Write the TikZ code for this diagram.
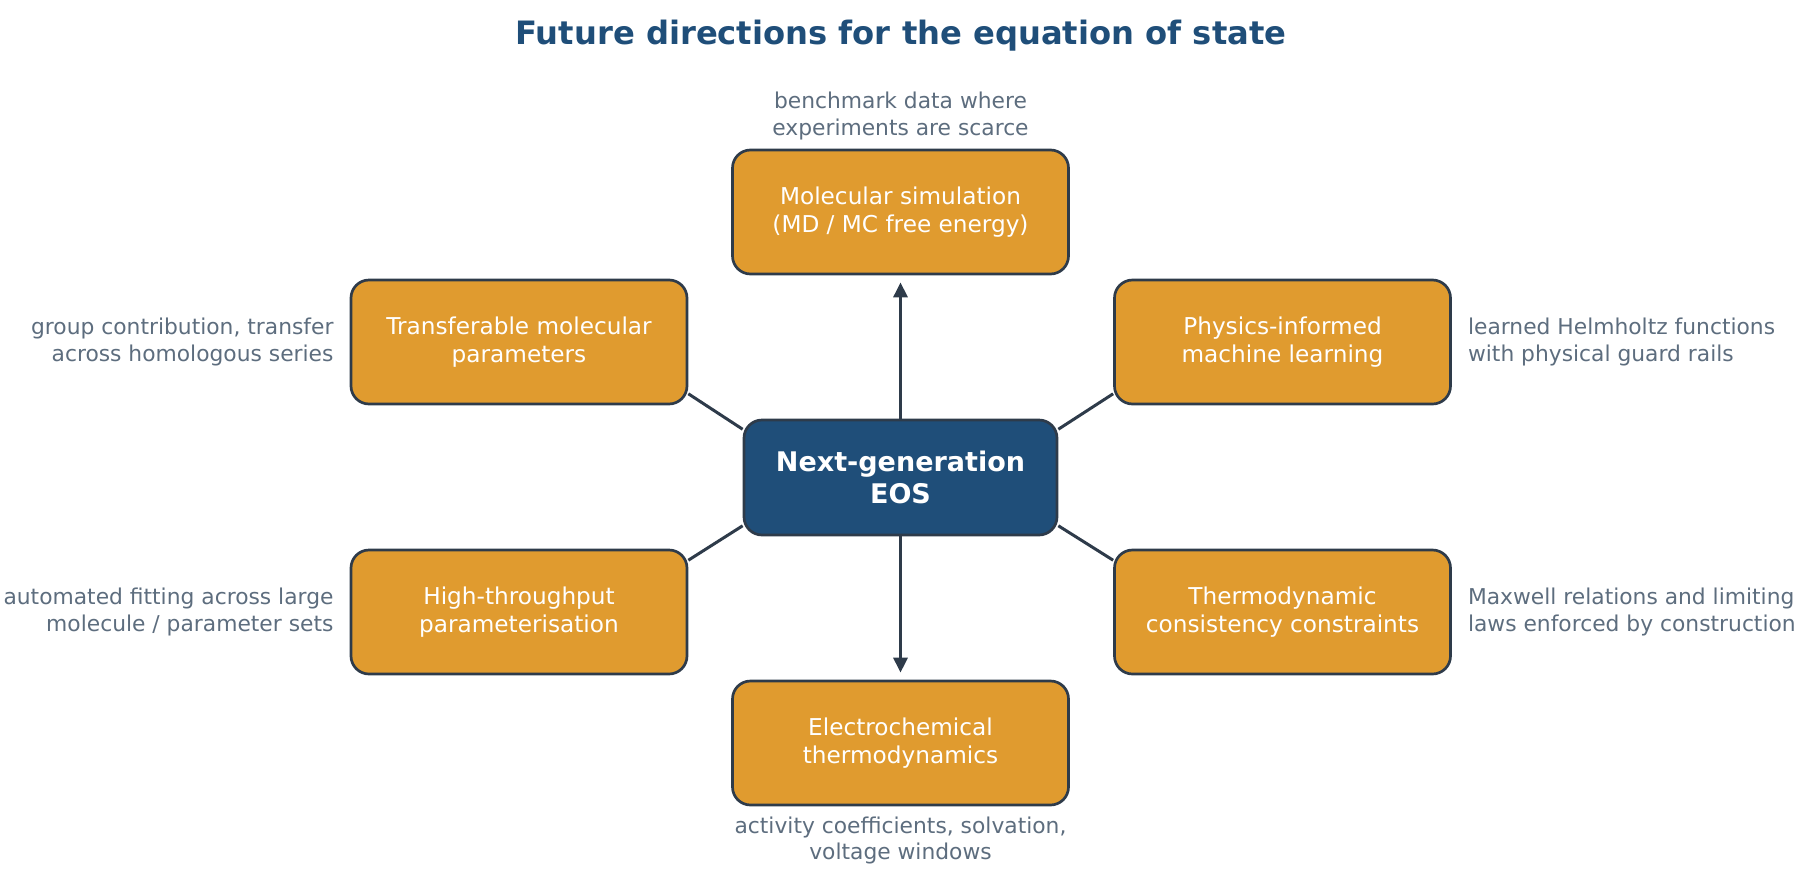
\documentclass[tikz,border=0pt]{standalone}
\usepackage{fontspec}
\setmainfont{DejaVu Sans}
\usetikzlibrary{arrows.meta,backgrounds}
\definecolor{orangebox}{HTML}{E09B2F}
\definecolor{navy}{HTML}{1F4E79}
\definecolor{edgec}{HTML}{2E3B4A}
\definecolor{notec}{HTML}{5D6D7E}
\begin{document}
\begin{tikzpicture}[x=1pt,y=-1pt,
  topic/.style={draw=edgec, line width=2.7pt, fill=orangebox, rounded corners=18pt,
    minimum width=336pt, minimum height=124pt, align=center, text=white,
    font=\fontsize{23.2}{27.5}\selectfont, inner sep=0pt},
  hub/.style={draw=edgec, line width=2.7pt, fill=navy, rounded corners=18pt,
    minimum width=313pt, minimum height=115pt, align=center, text=white,
    font=\bfseries\fontsize{27}{32}\selectfont, inner sep=0pt},
  notetext/.style={text=notec, font=\fontsize{21.8}{26.5}\selectfont, inner sep=0pt},
  link/.style={draw=edgec, line width=3pt},
  arrowlink/.style={draw=edgec, line width=3pt, -{Triangle[length=15pt,width=14pt]}, shorten >=7pt},
]
\useasboundingbox (0,0) rectangle (1800,868);

\node[text=navy, font=\bfseries\fontsize{32.2}{38}\selectfont, inner sep=0pt] (title) at (901,35.5) {Future directions for the equation of state};

\node[hub] (c) at (900.5,477.5) {Next-generation\\EOS};

\node[topic] (top) at (900.5,212) {Molecular simulation\\(MD / MC free energy)};
\node[topic] (bot) at (900.5,743) {Electrochemical\\thermodynamics};
\node[topic] (lt) at (519,342) {Transferable molecular\\parameters};
\node[topic] (lb) at (519,612) {High-throughput\\parameterisation};
\node[topic] (rt) at (1282.5,342) {Physics-informed\\machine learning};
\node[topic] (rb) at (1282.5,612) {Thermodynamic\\consistency constraints};

\begin{scope}[on background layer]
  \draw[link] (c.163) -- (lt.-17);
  \draw[link] (c.17) -- (rt.197);
  \draw[link] (c.197) -- (lb.17);
  \draw[link] (c.-17) -- (rb.163);
\end{scope}
\draw[arrowlink] (c.north) -- (top.south);
\draw[arrowlink] (c.south) -- (bot.north);

\node[notetext, align=center, anchor=south] (ntop) at ([yshift=8.5pt]top.north) {benchmark data where\\experiments are scarce};
\node[notetext, align=center, anchor=north] (nbot) at ([yshift=-10pt]bot.south) {activity coefficients, solvation,\\voltage windows};
\node[notetext, align=right, anchor=east] (nlt) at ([xshift=-16pt]lt.west) {group contribution, transfer\\across homologous series};
\node[notetext, align=right, anchor=east] (nlb) at ([xshift=-16pt]lb.west) {automated fitting across large\\molecule / parameter sets};
\node[notetext, align=left, anchor=west] (nrt) at ([xshift=16pt]rt.east) {learned Helmholtz functions\\with physical guard rails};
\node[notetext, align=left, anchor=west] (nrb) at ([xshift=16pt]rb.east) {Maxwell relations and limiting\\laws enforced by construction};
\end{tikzpicture}
\end{document}
